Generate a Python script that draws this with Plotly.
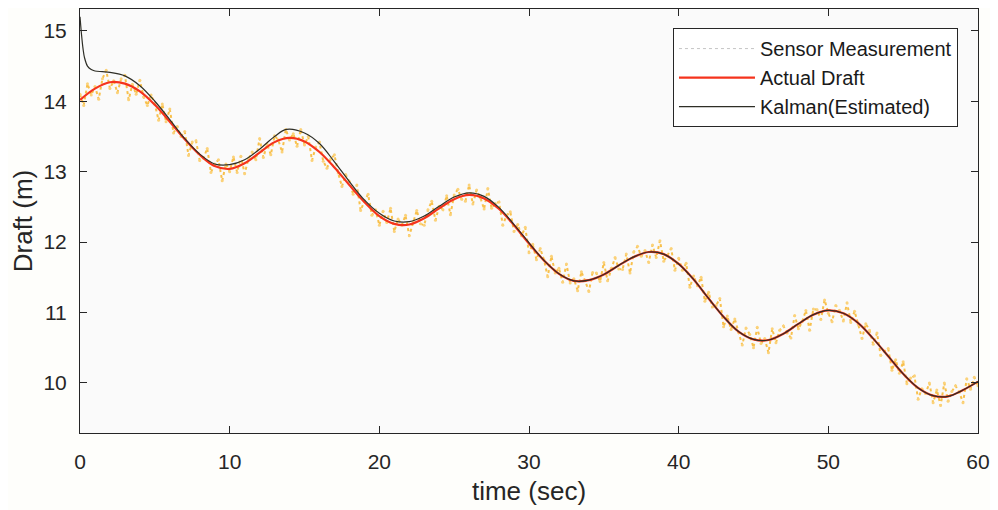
import numpy as np
import plotly.graph_objects as go

# actual draft, sampled once per second (0..60 s)
actual_draft = [14.02, 14.18, 14.27, 14.25, 14.14, 13.95, 13.71, 13.46, 13.24, 13.08,
                13.04, 13.12, 13.27, 13.42, 13.48, 13.43, 13.28, 13.06, 12.81, 12.57,
                12.37, 12.26, 12.25, 12.34, 12.48, 12.61, 12.67, 12.62, 12.47, 12.24,
                11.98, 11.74, 11.55, 11.45, 11.46, 11.54, 11.67, 11.79, 11.86, 11.83,
                11.69, 11.47, 11.20, 10.94, 10.73, 10.62, 10.61, 10.70, 10.84, 10.97,
                11.03, 10.99, 10.85, 10.63, 10.38, 10.13, 9.93, 9.82, 9.81, 9.90,
                10.02]
actual_t = list(range(0, 61))

# kalman estimate
kalman_t = [0, 0.1, 0.2, 0.3, 0.5, 0.75, 1, 1.5, 2, 3, 4, 5, 6, 7, 8, 9, 10, 11, 12, 13,
            13.8, 15, 16, 17, 18, 19, 20, 21, 22, 23, 24, 25, 26, 27, 28, 29, 30, 31, 32,
            33, 34, 35, 36, 37, 38, 39, 40, 41, 42, 43, 44, 45, 46, 47, 48, 49, 50, 51,
            52, 53, 54, 55, 56, 57, 58, 59, 60]
kalman_est = [15.2, 14.95, 14.75, 14.62, 14.5, 14.45, 14.43, 14.42, 14.41, 14.36, 14.22,
              14.0, 13.74, 13.47, 13.25, 13.11, 13.10, 13.17, 13.32, 13.50,
              13.60, 13.55, 13.40, 13.14, 12.86, 12.60, 12.41, 12.30, 12.29, 12.37,
              12.51, 12.64, 12.70, 12.65, 12.49, 12.25, 11.99, 11.74, 11.55, 11.45,
              11.46, 11.54, 11.67, 11.79, 11.86, 11.83, 11.69, 11.47, 11.20, 10.94,
              10.73, 10.62, 10.61, 10.70, 10.84, 10.97, 11.03, 10.99, 10.85, 10.63,
              10.38, 10.13, 9.93, 9.82, 9.81, 9.90, 10.02]

# sensor measurement, every 0.25 s
sensor_meas = [
    14.10, 13.94, 14.25, 14.09, 14.21, 14.03, 14.32, 14.44, 14.18, 14.29, 14.12, 14.32,
    14.37, 14.02, 14.24, 14.10, 14.30, 14.06, 13.94, 14.09, 13.96, 13.73, 13.96, 13.71,
    13.89, 13.55, 13.64, 13.50, 13.57, 13.23, 13.42, 13.44, 13.16, 13.19, 13.33, 12.99,
    13.11, 13.17, 12.87, 13.11, 13.00, 13.21, 12.99, 13.22, 12.97, 13.18, 13.28, 13.17,
    13.47, 13.20, 13.39, 13.24, 13.51, 13.45, 13.28, 13.60, 13.45, 13.54, 13.36, 13.60,
    13.38, 13.50, 13.16, 13.35, 13.42, 13.15, 13.05, 13.18, 13.24, 12.98, 12.79, 12.96,
    12.86, 12.68, 12.81, 12.45, 12.58, 12.68, 12.38, 12.46, 12.24, 12.44, 12.28, 12.48,
    12.15, 12.33, 12.24, 12.38, 12.09, 12.29, 12.45, 12.26, 12.24, 12.46, 12.58, 12.31,
    12.51, 12.46, 12.66, 12.39, 12.67, 12.75, 12.61, 12.58, 12.81, 12.54, 12.74, 12.63,
    12.47, 12.76, 12.48, 12.55, 12.57, 12.24, 12.38, 12.43, 12.15, 12.25, 12.09, 12.21,
    11.85, 11.97, 11.75, 11.91, 11.75, 11.51, 11.80, 11.56, 11.63, 11.43, 11.69, 11.42,
    11.48, 11.31, 11.58, 11.45, 11.30, 11.57, 11.56, 11.44, 11.71, 11.45, 11.63, 11.78,
    11.62, 11.61, 11.83, 11.56, 11.86, 11.94, 11.80, 11.88, 11.71, 11.96, 11.78, 12.02,
    11.73, 11.81, 11.91, 11.60, 11.77, 11.60, 11.70, 11.36, 11.52, 11.38, 11.50, 11.16,
    11.29, 11.08, 11.10, 11.20, 10.80, 10.95, 10.76, 10.91, 10.72, 10.54, 10.78, 10.69,
    10.50, 10.79, 10.56, 10.63, 10.43, 10.77, 10.57, 10.75, 10.81, 10.71, 10.64, 10.96,
    10.77, 10.87, 11.03, 10.75, 11.05, 11.04, 10.90, 11.18, 10.99, 10.87, 11.10, 11.03,
    10.88, 11.14, 10.86, 11.02, 10.83, 10.63, 10.84, 10.75, 10.55, 10.71, 10.39, 10.45,
    10.49, 10.18, 10.33, 10.14, 10.30, 9.99, 10.07, 10.10, 9.77, 9.92, 9.85, 10.00,
    9.72, 9.90, 9.68, 10.00, 9.74, 9.88, 9.96, 9.87, 9.72, 10.06, 9.91, 10.08, 9.96]
sensor_t = np.linspace(0, 60, len(sensor_meas))

x_ticks = [0, 10, 20, 30, 40, 50, 60]
y_ticks = [10, 11, 12, 13, 14, 15]

axis_col = '#262626'
font_fam = 'Liberation Sans, Arial, sans-serif'

fig = go.Figure()

# measurement cloud (dotted zigzag like the matlab ':' style)
fig.add_trace(go.Scatter(x=sensor_t, y=sensor_meas, mode='lines+markers',
                         line=dict(color='#f8c04c', width=2, dash='dot'),
                         marker=dict(color='#fbd27a', size=3),
                         showlegend=False, hoverinfo='skip'))
# legend entry for the measurement
fig.add_trace(go.Scatter(x=[None], y=[None], mode='lines', name='Sensor Measurement',
                         line=dict(color='#c4c4c4', width=1, dash='dot')))
fig.add_trace(go.Scatter(x=actual_t, y=actual_draft, mode='lines', name='Actual Draft',
                         line=dict(color='#f5331c', width=2.2, shape='spline')))
fig.add_trace(go.Scatter(x=kalman_t, y=kalman_est, mode='lines', name='Kalman(Estimated)',
                         line=dict(color='#2e2e26', width=1.2, shape='spline')))

fig.update_xaxes(range=[0, 60], tickvals=x_ticks, ticks='inside', ticklen=7,
                 tickcolor=axis_col, showline=True, linecolor=axis_col, linewidth=1,
                 mirror='allticks', showgrid=False, zeroline=False, ticklabelstandoff=10,
                 tickfont=dict(size=21, color=axis_col, family=font_fam),
                 title=dict(text='time (sec)', font=dict(size=26, color=axis_col, family=font_fam),
                            standoff=9))
fig.update_yaxes(range=[9.29, 15.31], tickvals=y_ticks, ticks='inside', ticklen=7,
                 tickcolor=axis_col, showline=True, linecolor=axis_col, linewidth=1,
                 mirror='allticks', showgrid=False, zeroline=False, ticklabelstandoff=8,
                 tickfont=dict(size=21, color=axis_col, family=font_fam),
                 title=dict(text='Draft (m)', font=dict(size=26, color=axis_col, family=font_fam),
                            standoff=4))

fig.update_layout(
    width=998, height=510,
    margin=dict(l=72, r=28, t=1, b=85),
    paper_bgcolor='#fefefb', plot_bgcolor='#fafafa',
    font=dict(family=font_fam, color=axis_col),
    legend=dict(x=0.9777, y=0.955, xanchor='right', yanchor='top',
                bgcolor='#ffffff', bordercolor=axis_col, borderwidth=1,
                font=dict(size=20, color='#1a1a1a', family=font_fam),
                itemwidth=76, tracegroupgap=0),
)

fig.write_html("out.html")
